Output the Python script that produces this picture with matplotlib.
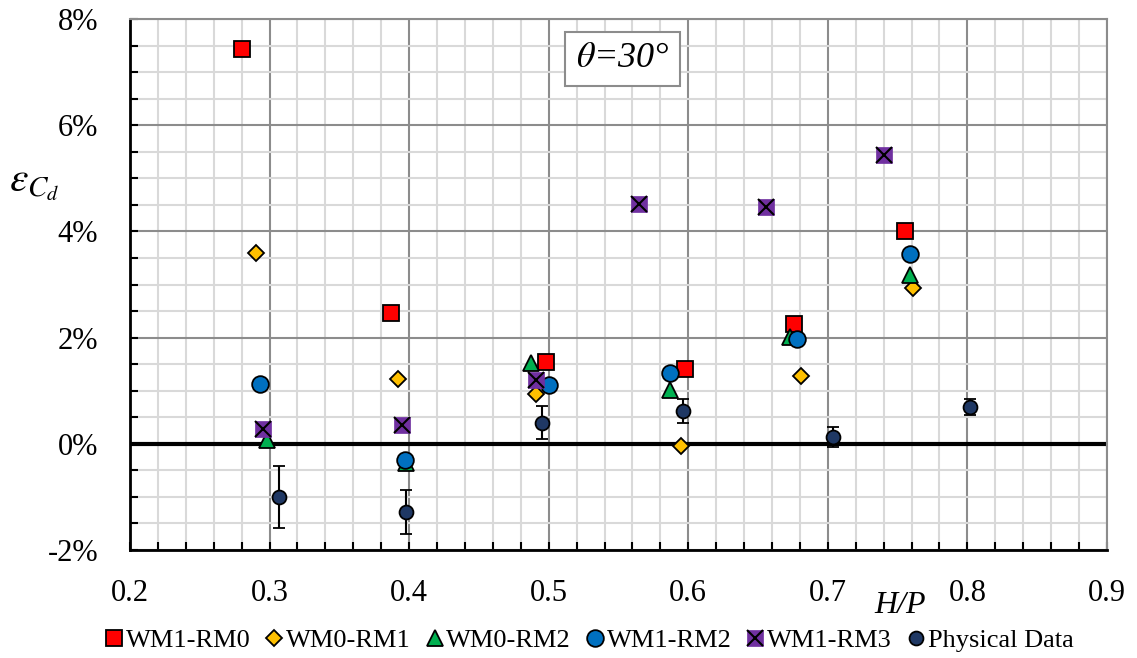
import matplotlib
matplotlib.use("Agg")
import matplotlib.pyplot as plt
from matplotlib.ticker import MultipleLocator, FuncFormatter
from matplotlib.lines import Line2D

plt.rcParams["font.family"] = "Liberation Serif"
plt.rcParams["mathtext.fontset"] = "stix"

# H/P values and error (%)
x_wm1_rm0 = [0.280, 0.387, 0.498, 0.598, 0.676, 0.755]
y_wm1_rm0 = [7.44, 2.47, 1.54, 1.41, 2.26, 4.01]

x_wm0_rm1 = [0.290, 0.392, 0.491, 0.595, 0.681, 0.761]
y_wm0_rm1 = [3.60, 1.22, 0.93, -0.04, 1.28, 2.94]

x_wm0_rm2 = [0.298, 0.398, 0.487, 0.587, 0.673, 0.759]
y_wm0_rm2 = [0.08, -0.36, 1.53, 1.02, 2.02, 3.18]

x_wm1_rm2 = [0.293, 0.397, 0.500, 0.587, 0.678, 0.759]
y_wm1_rm2 = [1.13, -0.30, 1.11, 1.34, 1.98, 3.58]

x_wm1_rm3 = [0.2955, 0.395, 0.491, 0.5645, 0.656, 0.740]
y_wm1_rm3 = [0.28, 0.36, 1.20, 4.52, 4.46, 5.44]

x_phys = [0.307, 0.398, 0.495, 0.596, 0.704, 0.802]
y_phys = [-1.00, -1.28, 0.40, 0.62, 0.13, 0.70]
err_phys = [0.59, 0.41, 0.31, 0.23, 0.19, 0.15]

fig = plt.figure(figsize=(11.37, 6.58), dpi=100)
ax = fig.add_axes([0.1143, 0.1641, 0.8593, 0.8070])

ax.set_xlim(0.2, 0.9)
ax.set_ylim(-2, 8)

ax.xaxis.set_major_locator(MultipleLocator(0.1))
ax.xaxis.set_minor_locator(MultipleLocator(0.02))
ax.yaxis.set_major_locator(MultipleLocator(2))
ax.yaxis.set_minor_locator(MultipleLocator(0.5))
ax.yaxis.set_major_formatter(FuncFormatter(lambda v, p: "{:.0f}%".format(v)))
ax.xaxis.set_major_formatter(FuncFormatter(lambda v, p: "{:.1f}".format(v)))

ax.grid(which="minor", color="#d9d9d9", lw=1.5, zorder=0)
ax.grid(which="major", color="#8c8c8c", lw=1.5, zorder=0)
ax.set_axisbelow(True)

ax.tick_params(axis="both", which="both", direction="in", length=6, width=1.5,
               colors="black")
ax.tick_params(axis="y", which="both", pad=23, labelsize=22, right=False)
ax.tick_params(axis="x", which="both", pad=21, labelsize=22, top=False)

for s in ["left", "bottom"]:
    ax.spines[s].set_color("black")
    ax.spines[s].set_linewidth(2)
for s in ["top", "right"]:
    ax.spines[s].set_color("#8c8c8c")
    ax.spines[s].set_linewidth(1.5)

ax.axhline(0, color="black", lw=3, zorder=2)

h1, = ax.plot(x_wm1_rm0, y_wm1_rm0, "s", ms=11.5, mfc="#ff0000", mec="black",
              mew=1.3, ls="none", zorder=3)
h2, = ax.plot(x_wm0_rm1, y_wm0_rm1, "D", ms=8.5, mfc="#ffc000", mec="black",
              mew=1.3, ls="none", zorder=3)
h3, = ax.plot(x_wm0_rm2, y_wm0_rm2, "^", ms=11.5, mfc="#00b050", mec="black",
              mew=1.3, ls="none", zorder=3)
h4, = ax.plot(x_wm1_rm2, y_wm1_rm2, "o", ms=12, mfc="#0070c0", mec="black",
              mew=1.3, ls="none", zorder=3)
h5a, = ax.plot(x_wm1_rm3, y_wm1_rm3, "s", ms=12, mfc="#7030a0", mec="#7030a0",
               mew=0.5, ls="none", zorder=3)
h5b, = ax.plot(x_wm1_rm3, y_wm1_rm3, "x", ms=11, mec="black", mew=1.5,
               ls="none", zorder=3)
h6 = ax.errorbar(x_phys, y_phys, yerr=err_phys, fmt="o", ms=10, mfc="#1f3864",
                 mec="black", mew=1.3, ecolor="black", elinewidth=1.5,
                 capsize=4.5, capthick=1.5, zorder=4)

ax.text(0.553, 7.25, r"$\theta$=30°", fontsize=26, fontstyle="italic",
        ha="center", va="center", zorder=5,
        bbox=dict(boxstyle="square,pad=0.3", fc="white", ec="#8c8c8c", lw=1.5))

ax.set_xlabel("H/P", fontsize=23, fontstyle="italic")
ax.xaxis.set_label_coords(0.788, -0.078)
ax.set_ylabel(r"$\varepsilon_{C_d}$", fontsize=30, rotation=0,
              ha="center", va="center")
ax.yaxis.set_label_coords(-0.098, 0.69)

# legend handles: physical data shown without its error bar
lh5b = Line2D([], [], marker="x", ms=11, mec="black", mew=1.5, ls="none")
lh6 = Line2D([], [], marker="o", ms=10, mfc="#1f3864", mec="black", mew=1.3,
             ls="none")
fig.legend([h1, h2, h3, h4, (h5a, lh5b), lh6],
           ["WM1-RM0", "WM0-RM1", "WM0-RM2", "WM1-RM2", "WM1-RM3", "Physical Data"],
           loc="center", bbox_to_anchor=(0.518, 0.027), ncol=6, frameon=False,
           fontsize=19, handlelength=0.7, handletextpad=0.1,
           columnspacing=0.55, borderaxespad=0)

fig.savefig("out.png", dpi=100)
